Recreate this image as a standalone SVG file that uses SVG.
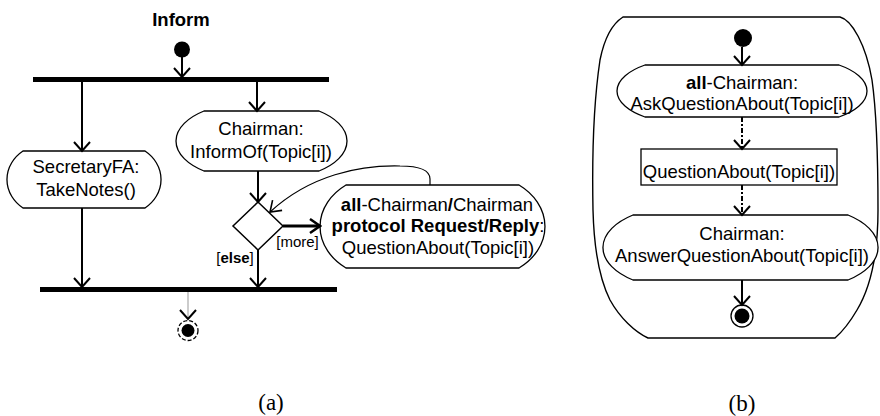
<svg xmlns="http://www.w3.org/2000/svg" width="880" height="416" viewBox="0 0 880 416">
  <style>
    text { font-family: "Liberation Sans", Arial, Helvetica, sans-serif; font-size: 18.5px; fill: #000; text-anchor: middle; }
    .b { font-weight: bold; }
    .act { fill: #fff; stroke: #000; stroke-width: 1.3; }
    .flow { fill: none; stroke: #000; stroke-width: 2; marker-end: url(#open); }
    .dash { stroke-dasharray: 5 2 2 2; }
    .bar { fill: #000; }
    .guard { font-size: 15px; }
    .cap { font-family: "Liberation Serif", "Times New Roman", serif; font-size: 23px; }
  </style>
  <defs>
    <marker id="open" viewBox="-11 -10 13 20" refX="0" refY="0" markerWidth="13" markerHeight="20" markerUnits="userSpaceOnUse" orient="auto">
      <path d="M-9,-8 L0,0 L-9,8" fill="none" stroke="#000" stroke-width="2"/>
    </marker>
    <marker id="openThick" viewBox="-12 -10 14 20" refX="0" refY="0" markerWidth="14" markerHeight="20" markerUnits="userSpaceOnUse" orient="auto">
      <path d="M-10,-7 L0,0 L-10,7" fill="none" stroke="#000" stroke-width="2.5"/>
    </marker>
    <marker id="openThin" viewBox="-12 -10 14 20" refX="0" refY="0" markerWidth="14" markerHeight="20" markerUnits="userSpaceOnUse" orient="auto">
      <path d="M-10,-7 L0,0 L-10,7" fill="none" stroke="#000" stroke-width="1.6"/>
    </marker>
  </defs>

  <!-- (a) Inform activity -->
  <text class="b" x="181" y="26" font-size="19.5">Inform</text>

  <g id="a-start"><circle cx="182" cy="49.5" r="8" fill="#000"/></g>
  <g id="a-fork"><rect class="bar" x="33" y="77" width="296" height="5"/></g>
  <g id="a-join"><rect class="bar" x="40" y="287" width="297" height="5"/></g>

  <g id="a-take-notes">
    <path class="act" d="M23,151 H145 A40,35.6 0 0 1 145,208 H23 A40,35.6 0 0 1 23,151 Z"/>
    <text x="86" y="173">SecretaryFA:</text>
    <text x="86" y="196">TakeNotes()</text>
  </g>

  <g id="a-inform-of">
    <path class="act" d="M204,111 H319 A70,37.5 0 0 1 319,171 H204 A70,37.5 0 0 1 204,111 Z"/>
    <text x="261" y="135">Chairman:</text>
    <text x="261" y="158">InformOf(Topic[i])</text>
  </g>

  <g id="a-decision"><polygon points="258,202 283,226 258,250 233,226" fill="#fff" stroke="#000" stroke-width="1.5"/></g>

  <g id="a-question">
    <path class="act" d="M346,185 H519 A65,51.9 0 0 1 519,268 H346 A65,51.9 0 0 1 346,185 Z"/>
    <text x="437" y="211"><tspan class="b">all</tspan>-Chairman<tspan class="b">/</tspan>Chairman</text>
    <text x="438" y="232"><tspan class="b">protocol Request/Reply</tspan>:</text>
    <text x="438" y="254">QuestionAbout(Topic[i])</text>
  </g>

  <g id="a-end">
    <circle cx="188" cy="330.5" r="10" fill="none" stroke="#000" stroke-width="1.3" stroke-dasharray="4 2"/>
    <circle cx="188" cy="330.5" r="6.5" fill="#000"/>
  </g>

  <g id="a-connectors">
    <path class="flow" d="M182,57 V77"/>
    <path class="flow" d="M82,82 V151"/>
    <path class="flow" d="M257,82 V111"/>
    <path class="flow" d="M82,208 V287"/>
    <path class="flow" d="M258,171 V202"/>
    <path class="flow" d="M258,250 V287"/>
    <path d="M283,226 H320" fill="none" stroke="#000" stroke-width="3" marker-end="url(#openThick)"/>
    <path d="M430,185 V179 C430,170 420,166 400,166 C360,165 310,175 270,212" fill="none" stroke="#000" stroke-width="1.2" marker-end="url(#openThin)"/>
    <path d="M188,292 V319" fill="none" stroke="#999" stroke-width="1" marker-end="url(#open)"/>
    <text class="guard" x="235" y="263">[<tspan class="b">else</tspan>]</text>
    <text class="guard" x="297.5" y="247">[more]</text>
  </g>

  <!-- (b) Request/Reply protocol -->
  <g id="b-protocol">
    <path d="M623,17 H840 C852,20 866,45 872,80 C877,115 878,160 878,210 C878,250 872,285 857,310 C850,322 842,332 835,338 H648 C635,332 620,318 610,300 C600,280 594,250 593,210 C592,160 594,100 600,60 C604,40 612,24 623,17 Z" fill="none" stroke="#000" stroke-width="1.4"/>
  </g>

  <g id="b-start"><circle cx="743" cy="38" r="9" fill="#000"/></g>

  <g id="b-ask">
    <path class="act" d="M645,65 H839 A70,32.5 0 0 1 839,117 H645 A70,32.5 0 0 1 645,65 Z"/>
    <text x="742" y="89"><tspan class="b">all</tspan>-Chairman:</text>
    <text x="742" y="110">AskQuestionAbout(Topic[i])</text>
  </g>

  <g id="b-message">
    <rect x="641" y="149" width="196" height="36" fill="#fff" stroke="#000" stroke-width="1.3"/>
    <text x="739" y="178">QuestionAbout(Topic[i])</text>
  </g>

  <g id="b-answer">
    <path class="act" d="M633,215 H848 A75,40.6 0 0 1 848,280 H633 A75,40.6 0 0 1 633,215 Z"/>
    <text x="742" y="240">Chairman:</text>
    <text x="742" y="262">AnswerQuestionAbout(Topic[i])</text>
  </g>

  <g id="b-end">
    <circle cx="742" cy="316" r="11" fill="none" stroke="#000" stroke-width="1.3"/>
    <circle cx="742" cy="316" r="7.5" fill="#000"/>
  </g>

  <g id="b-connectors">
    <path class="flow" d="M742,47 V65"/>
    <path class="flow dash" d="M742,117 V149"/>
    <path class="flow dash" d="M742,185 V215"/>
    <path class="flow" d="M742,280 V305"/>
  </g>

  <text class="cap" x="271" y="410">(a)</text>
  <text class="cap" x="742" y="411">(b)</text>
</svg>
